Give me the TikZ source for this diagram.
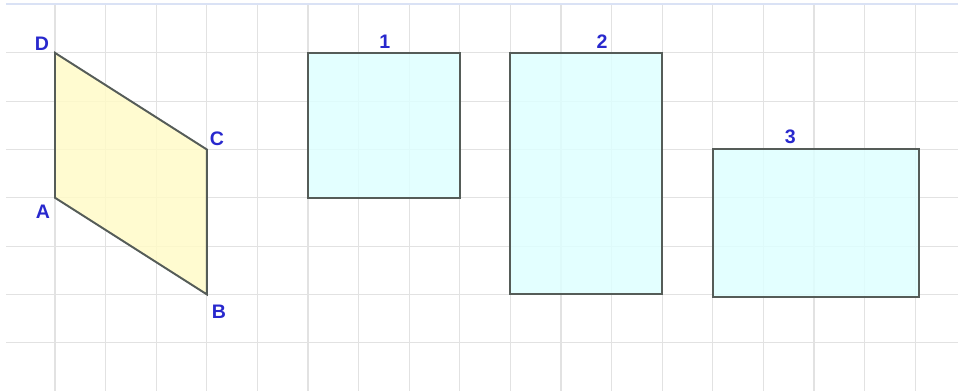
\documentclass[tikz,border=0pt]{standalone}
\usepackage{fontspec}
\setsansfont{Liberation Sans}
\usepackage{tikz}
\usetikzlibrary{positioning}
\definecolor{gridgray}{RGB}{226,226,226}
\definecolor{topblue}{RGB}{218,226,245}
\definecolor{edgegray}{RGB}{85,92,88}
\definecolor{paleyellow}{RGB}{255,250,200}
\definecolor{palecyan}{RGB}{222,255,255}
\definecolor{labelblue}{RGB}{40,40,205}
\tikzstyle{invis} = [draw=none]
\tikzstyle{lbl} = [draw=none, text=labelblue, inner sep=0pt, font=\sffamily\bfseries\fontsize{11}{13}\selectfont]
\tikzstyle{side} = [draw=edgegray, line width=1.1pt, line join=miter]
\tikzstyle{gridline} = [draw=gridgray, line width=0.6pt]

\begin{document}
\begin{tikzpicture}[x=1cm,y=0.9545cm]

    \useasboundingbox (-0.087,0) rectangle (18.846,8.095);

    % grid
    \foreach \i in {1,...,18}
      \path[gridline] (\i,0) -- (\i,8);
    \foreach \j in {1,...,7}
      \path[gridline] (0.03,\j) -- (18.846,\j);
    \path[draw=topblue, line width=1.2pt] (0.03,8.02) -- (18.846,8.02);

    %=====================

    \coordinate (vA) at (1,4);
    \coordinate (vB) at (4,2);
    \coordinate (vC) at (4,5);
    \coordinate (vD) at (1,7);

    \fill[paleyellow, fill opacity=0.85] (vA) -- (vB) -- (vC) -- (vD) -- cycle;
    \draw[side] (vA) -- (vB) -- (vC) -- (vD) -- cycle;

    \node[lbl] at (0.76,3.71) (labA) {A};
    \node[lbl] at (4.24,1.64) (labB) {B};
    \node[lbl] at (4.20,5.22) (labC) {C};
    \node[lbl] at (0.74,7.18) (labD) {D};

    %=====================

    \coordinate (r1a) at (6,4);
    \coordinate (r1b) at (9,7);
    \fill[palecyan, fill opacity=0.85] (r1a) rectangle (r1b);
    \draw[side] (r1a) rectangle (r1b);
    \node[lbl] at (7.52,7.24) (lab1) {1};

    \coordinate (r2a) at (10,2);
    \coordinate (r2b) at (13,7);
    \fill[palecyan, fill opacity=0.85] (r2a) rectangle (r2b);
    \draw[side] (r2a) rectangle (r2b);
    \node[lbl] at (11.81,7.24) (lab2) {2};

    \coordinate (r3a) at (14,1.94);
    \coordinate (r3b) at (18.07,5);
    \fill[palecyan, fill opacity=0.85] (r3a) rectangle (r3b);
    \draw[side] (r3a) rectangle (r3b);
    \node[lbl] at (15.53,5.26) (lab3) {3};

\end{tikzpicture}
\end{document}
